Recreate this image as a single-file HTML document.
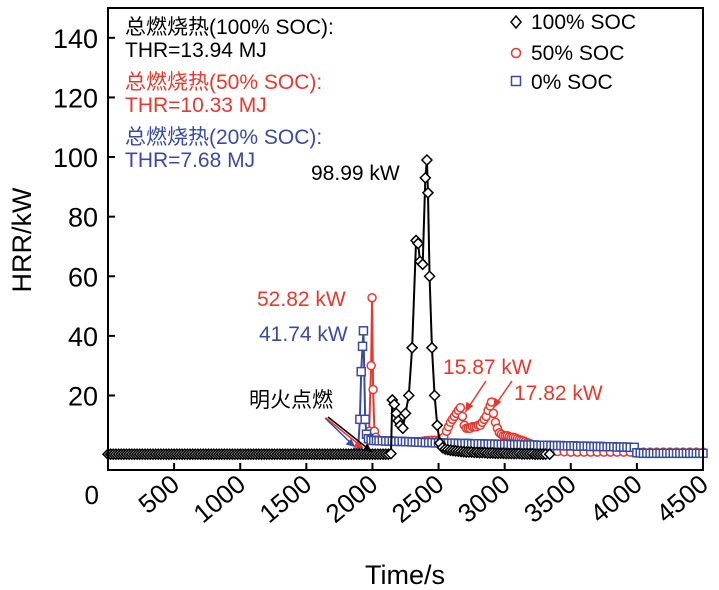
<!DOCTYPE html>
<html><head><meta charset="utf-8"><style>
html,body{margin:0;padding:0;background:#fff;}
svg{display:block;font-family:"Liberation Sans","Noto Sans CJK SC",sans-serif;}
</style></head><body>
<svg id="chart" width="719" height="590" viewBox="0 0 719 590" xmlns="http://www.w3.org/2000/svg">
<g id="series"></g>
<rect x="108" y="8" width="595" height="462" fill="none" stroke="#000" stroke-width="2"/>
<g id="axes"></g>
<text transform="translate(31,240) rotate(-90)" text-anchor="middle" font-size="27">HRR/kW</text>
<text x="405" y="584" text-anchor="middle" font-size="27">Time/s</text>
<g font-size="21">
<text x="125" y="34" fill="#000">总燃烧热(100% SOC):</text>
<text x="125" y="57" fill="#000">THR=13.94 MJ</text>
<text x="125" y="89" fill="#e8382e">总燃烧热(50% SOC):</text>
<text x="125" y="112" fill="#e8382e">THR=10.33 MJ</text>
<text x="125" y="144" fill="#3a4aa0">总燃烧热(20% SOC):</text>
<text x="125" y="167" fill="#3a4aa0">THR=7.68 MJ</text>
</g>
<g font-size="21">
<g><path d="M516 16 L521 22 L516 28 L511 22 Z" fill="#fff" stroke="#000" stroke-width="1.5"/><text x="531" y="29">100% SOC</text></g>
<g><circle cx="516" cy="53" r="4.5" fill="#fff" stroke="#e8382e" stroke-width="1.5"/><text x="531" y="60">50% SOC</text></g>
<g><rect x="511.5" y="76.5" width="9" height="9" fill="#fff" stroke="#3a4aa0" stroke-width="1.5"/><text x="531" y="89">0% SOC</text></g>
</g>
<g font-size="21">
<text x="311" y="180" fill="#000">98.99 kW</text>
<text x="257" y="306" fill="#e8382e">52.82 kW</text>
<text x="259" y="341" fill="#3a4aa0">41.74 kW</text>
<text x="443" y="374" fill="#e8382e">15.87 kW</text>
<text x="514" y="400" fill="#e8382e">17.82 kW</text>
<text x="249" y="407" fill="#000">明火点燃</text>
</g>
<g stroke-width="1.5" fill="none">
<line x1="325" y1="418" x2="354" y2="446" stroke="#3a4aa0"/><path d="M354 446 l-7 -2 l4 -4 z" fill="#3a4aa0" stroke="#3a4aa0"/>
<line x1="326" y1="418" x2="362" y2="447" stroke="#e8382e"/><path d="M362 447 l-7 -1 l3 -5 z" fill="#e8382e" stroke="#e8382e"/>
<line x1="328" y1="417" x2="371" y2="451" stroke="#000"/><path d="M371 451 l-7 -1 l3 -5 z" fill="#000" stroke="#000"/>
<line x1="486" y1="381" x2="466" y2="411" stroke="#e8382e"/><path d="M466 411 l1 -8 l5 3 z" fill="#e8382e" stroke="#e8382e"/>
<line x1="512" y1="381" x2="494" y2="407" stroke="#e8382e"/><path d="M494 407 l1 -8 l5 3 z" fill="#e8382e" stroke="#e8382e"/>
</g>
<script>
const xTicks=[0,500,1000,1500,2000,2500,3000,3500,4000,4500];
const yTicks=[20,40,60,80,100,120,140];
const blackT=[0,20,40,60,80,100,120,140,160,180,200,220,240,260,280,300,320,340,360,380,400,420,440,460,480,500,520,540,560,580,600,620,640,660,680,700,720,740,760,780,800,820,840,860,880,900,920,940,960,980,1000,1020,1040,1060,1080,1100,1120,1140,1160,1180,1200,1220,1240,1260,1280,1300,1320,1340,1360,1380,1400,1420,1440,1460,1480,1500,1520,1540,1560,1580,1600,1620,1640,1660,1680,1700,1720,1740,1760,1780,1800,1820,1840,1860,1880,1900,1920,1940,1960,1980,2000,2020,2040,2060,2080,2100,2120,2140,2150,2165,2180,2195,2210,2230,2250,2275,2300,2330,2345,2360,2380,2400,2412,2420,2432,2450,2470,2490,2510,2530,2550,2570,2590,2610,2630,2650,2670,2690,2710,2730,2750,2770,2790,2810,2830,2850,2870,2890,2910,2930,2950,2970,2990,3010,3030,3050,3070,3090,3110,3130,3150,3170,3190,3210,3230,3250,3270,3290,3310,3340];
const blackV=[0.3,0.3,0.3,0.3,0.3,0.3,0.3,0.3,0.3,0.3,0.3,0.3,0.3,0.3,0.3,0.3,0.3,0.3,0.3,0.3,0.3,0.3,0.3,0.3,0.3,0.3,0.3,0.3,0.3,0.3,0.3,0.3,0.3,0.3,0.3,0.3,0.3,0.3,0.3,0.3,0.3,0.3,0.3,0.3,0.3,0.3,0.3,0.3,0.3,0.3,0.3,0.3,0.3,0.3,0.3,0.3,0.3,0.3,0.3,0.3,0.3,0.3,0.3,0.3,0.3,0.3,0.3,0.3,0.3,0.3,0.3,0.3,0.3,0.3,0.3,0.3,0.3,0.3,0.3,0.3,0.3,0.3,0.3,0.3,0.3,0.3,0.3,0.3,0.3,0.3,0.3,0.3,0.3,0.3,0.3,0.3,0.3,0.3,0.3,0.3,0.3,0.3,0.3,0.3,0.3,0.3,0.3,0.5,18.5,17,14,11.5,10,9,14,20,36,72,71,65,64,93,99,88,60,36,20,10,4,2.5,2,1.8,1.6,1.5,1.4,1.3,1.2,1.1,1,1,1,0.9,0.9,0.8,0.8,0.8,0.7,0.7,0.7,0.6,0.6,0.6,0.6,0.5,0.5,0.5,0.5,0.5,0.5,0.4,0.4,0.4,0.4,0.4,0.3,0.3,0.3,0.3,0.3,0.3];
const redT=[1900,1940,1960,1975,1990,1997,2005,2015,2025,2040,2060,2080,2100,2125,2150,2175,2200,2225,2250,2275,2300,2325,2350,2375,2400,2425,2450,2475,2500,2520,2540,2560,2575,2590,2605,2620,2635,2650,2665,2680,2695,2710,2725,2740,2755,2770,2785,2800,2815,2830,2845,2860,2875,2890,2900,2915,2930,2945,2960,2975,2990,3005,3020,3035,3050,3065,3080,3095,3110,3125,3140,3155,3170,3185,3200,3220,3240,3260,3280,3300,3320,3340,3360,3380,3400,3450,3500,3550,3600,3650,3700,3750,3800,3850,3900,3950,4000,4050,4100,4150,4200,4250,4300,4350,4400,4450,4500];
const redV=[0.3,0.3,0.5,8,30,52.8,22,8,6,5,4.8,4.8,4.8,4.8,4.8,4.7,4.6,4.6,4.6,4.5,4.5,4.5,4.5,4.6,4.8,4.9,5,5,5,5.5,6,8,9.5,11,12,13,14,15,15.9,13,10,9,9,9,9.5,9.5,9.5,10,10,11,12,13,15,16.5,17.8,14,11,9,7.5,7,6.5,6.5,6.5,6.2,6,6,5.8,5.5,5.2,5,4.8,4.5,4.2,4,3.7,3.3,3,2.7,2.4,2.1,1.9,1.7,1.5,1.4,1.2,1.1,1,1,1,1,1,1,1,1,1,1,1,1,1,1,1,1,1,1,1,1,1];
const blueT=[1860,1890,1905,1915,1925,1932,1945,1955,1970,1990,2010,2030,2050,2075,2100,2125,2150,2175,2200,2225,2250,2275,2300,2325,2350,2375,2400,2425,2450,2475,2500,2525,2550,2575,2600,2625,2650,2675,2700,2725,2750,2775,2800,2825,2850,2875,2900,2925,2950,2975,3000,3025,3050,3075,3100,3125,3150,3175,3200,3225,3250,3275,3300,3325,3350,3375,3400,3425,3450,3475,3500,3525,3550,3575,3600,3625,3650,3675,3700,3725,3750,3775,3800,3825,3850,3875,3900,3925,3950,3980,4000,4025,4050,4075,4100,4125,4150,4175,4200,4225,4250,4275,4300,4325,4350,4375,4400,4425,4450,4475,4500];
const blueV=[0.3,1,12,28,36.5,41.7,12,7,5.5,5,4.9,4.9,4.8,4.8,4.7,4.7,4.7,4.6,4.6,4.6,4.5,4.5,4.4,4.4,4.3,4.3,4.2,4.2,4.2,4.1,4.1,4.1,4,4,4,4,3.9,3.9,3.9,3.9,3.8,3.8,3.8,3.8,3.7,3.7,3.7,3.7,3.6,3.6,3.6,3.6,3.5,3.5,3.5,3.5,3.4,3.4,3.4,3.4,3.3,3.3,3.3,3.3,3.2,3.2,3.2,3.2,3.1,3.1,3.1,3.1,3,3,3,3,2.9,2.9,2.9,2.9,2.8,2.8,2.8,2.8,2.7,2.7,2.7,2.7,2.6,2.6,0.8,0.7,0.6,0.6,0.6,0.6,0.6,0.6,0.6,0.6,0.6,0.6,0.6,0.6,0.6,0.6,0.6,0.6,0.6,0.6,0.6];
const NS="http://www.w3.org/2000/svg";
const X0=108,X1=703,Y0=470,Y1=8,XMIN=0,XMAX=4500,YMIN=-5,YMAX=150;
function sx(t){return X0+(t-XMIN)/(XMAX-XMIN)*(X1-X0);}
function sy(v){return Y0-(v-YMIN)/(YMAX-YMIN)*(Y0-Y1);}
function mk(tag,attrs,parent){const e=document.createElementNS(NS,tag);for(const k in attrs)e.setAttribute(k,attrs[k]);parent.appendChild(e);return e;}
const axes=document.getElementById('axes');
xTicks.forEach(t=>{
  const l=mk('line',{x1:sx(t),x2:sx(t),y1:Y0,y2:Y0-7,stroke:'#000','stroke-width':2},axes);
  
  
  const tx=mk('text',{'font-size':26,'text-anchor':'end'},axes);
  if(t===0){tx.setAttribute('x',sx(t)-9);tx.setAttribute('y',504);}
  else tx.setAttribute('transform','translate('+(sx(t)+7)+',487) rotate(-40)');
  tx.textContent=t;
  
  
});
yTicks.forEach(v=>{
  const l=mk('line',{x1:X0,x2:X0+7,y1:sy(v),y2:sy(v),stroke:'#000','stroke-width':2},axes);
  
  
  const tx=mk('text',{x:X0-10,y:sy(v)+10,'font-size':27,'text-anchor':'end'},axes);
  tx.textContent=v;
  
  
});
const sg=document.getElementById('series');
function draw(T,V,color,shape,name){
  const g=mk('g',{},sg);
  
  
  const pts=T.map((t,i)=>sx(t)+','+sy(V[i])).join(' ');
  mk('polyline',{points:pts,fill:'none',stroke:color,'stroke-width':2},g);
  T.forEach((t,i)=>{
    const x=sx(t),y=sy(V[i]);let m;
    if(shape==='d')m=mk('path',{d:'M'+x+' '+(y-5)+' L'+(x+5)+' '+y+' L'+x+' '+(y+5)+' L'+(x-5)+' '+y+' Z',fill:'#fff',stroke:color,'stroke-width':1.5},g);
    else if(shape==='c')m=mk('circle',{cx:x,cy:y,r:4,fill:'#fff',stroke:color,'stroke-width':1.5},g);
    else m=mk('rect',{x:x-4,y:y-4,width:8,height:8,fill:'#fff',stroke:color,'stroke-width':1.5},g);
    
    
  });
}
draw(redT,redV,'#e8382e','c','series-50-soc');
draw(blueT,blueV,'#3a4aa0','s','series-0-soc');
draw(blackT,blackV,'#000','d','series-100-soc');
</script>
</svg>
</body></html>
